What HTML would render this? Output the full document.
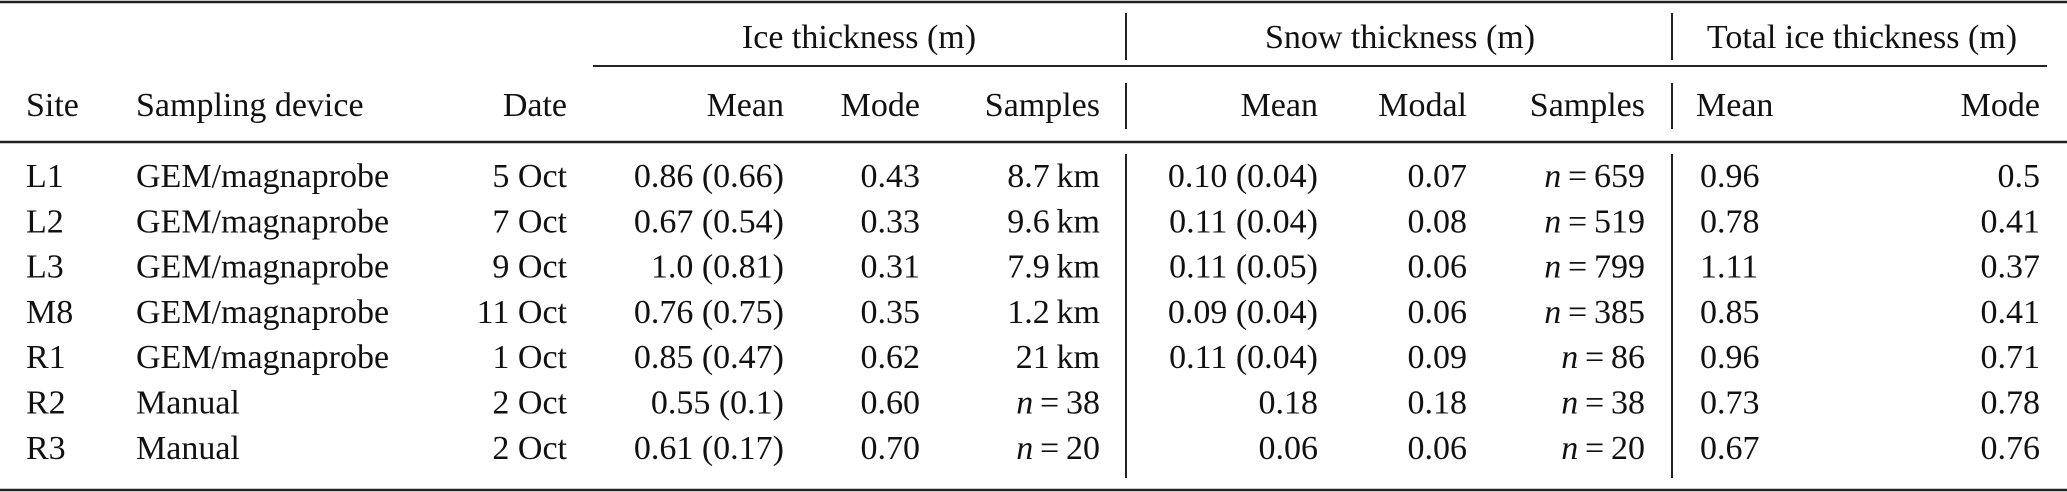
<!DOCTYPE html>
<html><head><meta charset="utf-8"><style>
html,body{margin:0;padding:0;background:#fff;}
svg{display:block;}
svg text, svg tspan{font-family:"Liberation Serif","Times New Roman",Times,"DejaVu Serif",serif !important;font-size:34px;fill:#111;}
</style></head><body>
<svg id="t" width="2067" height="492" viewBox="0 0 2067 492" font-family="'Liberation Serif', 'Times New Roman', serif">
<g id="rules" stroke="#222" fill="none"></g>
<g id="txt" font-family="'Liberation Serif', 'Times New Roman', serif"></g>
</svg>
<script>
const sites=["L1","L2","L3","M8","R1","R2","R3"];
const devices=["GEM/magnaprobe","GEM/magnaprobe","GEM/magnaprobe","GEM/magnaprobe","GEM/magnaprobe","Manual","Manual"];
const dates=["5 Oct","7 Oct","9 Oct","11 Oct","1 Oct","2 Oct","2 Oct"];
const iceMean=["0.86 (0.66)","0.67 (0.54)","1.0 (0.81)","0.76 (0.75)","0.85 (0.47)","0.55 (0.1)","0.61 (0.17)"];
const iceMode=["0.43","0.33","0.31","0.35","0.62","0.60","0.70"];
const iceSamples=["8.7\u2009km","9.6\u2009km","7.9\u2009km","1.2\u2009km","21\u2009km","n=38","n=20"];
const snowMean=["0.10 (0.04)","0.11 (0.04)","0.11 (0.05)","0.09 (0.04)","0.11 (0.04)","0.18","0.06"];
const snowModal=["0.07","0.08","0.06","0.06","0.09","0.18","0.06"];
const snowSamples=["n=659","n=519","n=799","n=385","n=86","n=38","n=20"];
const totMean=["0.96","0.78","1.11","0.85","0.96","0.73","0.67"];
const totMode=["0.5","0.41","0.37","0.41","0.71","0.78","0.76"];

const NS="http://www.w3.org/2000/svg";
const R=document.getElementById('rules'), T=document.getElementById('txt');
function line(x1,y1,x2,y2,w,name){
  const l=document.createElementNS(NS,'line');
  l.setAttribute('x1',x1);l.setAttribute('y1',y1);l.setAttribute('x2',x2);l.setAttribute('y2',y2);
  l.setAttribute('stroke-width',w);
  
  
  R.appendChild(l);
}
function txt(s,x,y,anchor,name){
  const t=document.createElementNS(NS,'text');
  t.setAttribute('x',x);t.setAttribute('y',y);t.setAttribute('text-anchor',anchor);
  t.setAttribute('font-family',"Liberation Serif, Times New Roman, serif");
  if(s.startsWith('n=')){
    const a=document.createElementNS(NS,'tspan');a.setAttribute('font-style','italic');a.textContent='n';
    t.appendChild(a);t.appendChild(document.createTextNode('\u2009=\u2009'+s.slice(2)));
  } else t.textContent=s;
  
  
  T.appendChild(t);
}
line(0,2,2067,2,2.5,'top-rule');
line(593,66,2047,66,2,'group-underline');
line(0,142,2067,142,2.5,'header-rule');
line(0,490,2067,490,2.5,'bottom-rule');
[1126,1672].forEach((x,i)=>{
  line(x,13,x,60,2,'group-separator-'+(i+1));
  line(x,83,x,129,2,'header-separator-'+(i+1));
  line(x,154,x,478,2,'data-separator-'+(i+1));
});
txt('Ice thickness (m)',859,48,'middle','ice-thickness-group-header');
txt('Snow thickness (m)',1400,48,'middle','snow-thickness-group-header');
txt('Total ice thickness (m)',1862,48,'middle','total-ice-thickness-group-header');
const hy=116;
txt('Site',26,hy,'start','site-header');
txt('Sampling device',136,hy,'start','sampling-device-header');
txt('Date',567,hy,'end','date-header');
txt('Mean',784,hy,'end','ice-mean-header');
txt('Mode',920,hy,'end','ice-mode-header');
txt('Samples',1100,hy,'end','ice-samples-header');
txt('Mean',1318,hy,'end','snow-mean-header');
txt('Modal',1467,hy,'end','snow-modal-header');
txt('Samples',1645,hy,'end','snow-samples-header');
txt('Mean',1696,hy,'start','total-mean-header');
txt('Mode',2040,hy,'end','total-mode-header');
sites.forEach((s,i)=>{
  const y=187+i*45.3;
  txt(s,26,y,'start','site-'+s);
  txt(devices[i],136,y,'start','device-'+s);
  txt(dates[i],567,y,'end','date-'+s);
  txt(iceMean[i],784,y,'end','ice-mean-'+s);
  txt(iceMode[i],920,y,'end','ice-mode-'+s);
  txt(iceSamples[i],1100,y,'end','ice-samples-'+s);
  txt(snowMean[i],1318,y,'end','snow-mean-'+s);
  txt(snowModal[i],1467,y,'end','snow-modal-'+s);
  txt(snowSamples[i],1645,y,'end','snow-samples-'+s);
  txt(totMean[i],1700,y,'start','total-mean-'+s);
  txt(totMode[i],2040,y,'end','total-mode-'+s);
});
</script>
</body></html>
